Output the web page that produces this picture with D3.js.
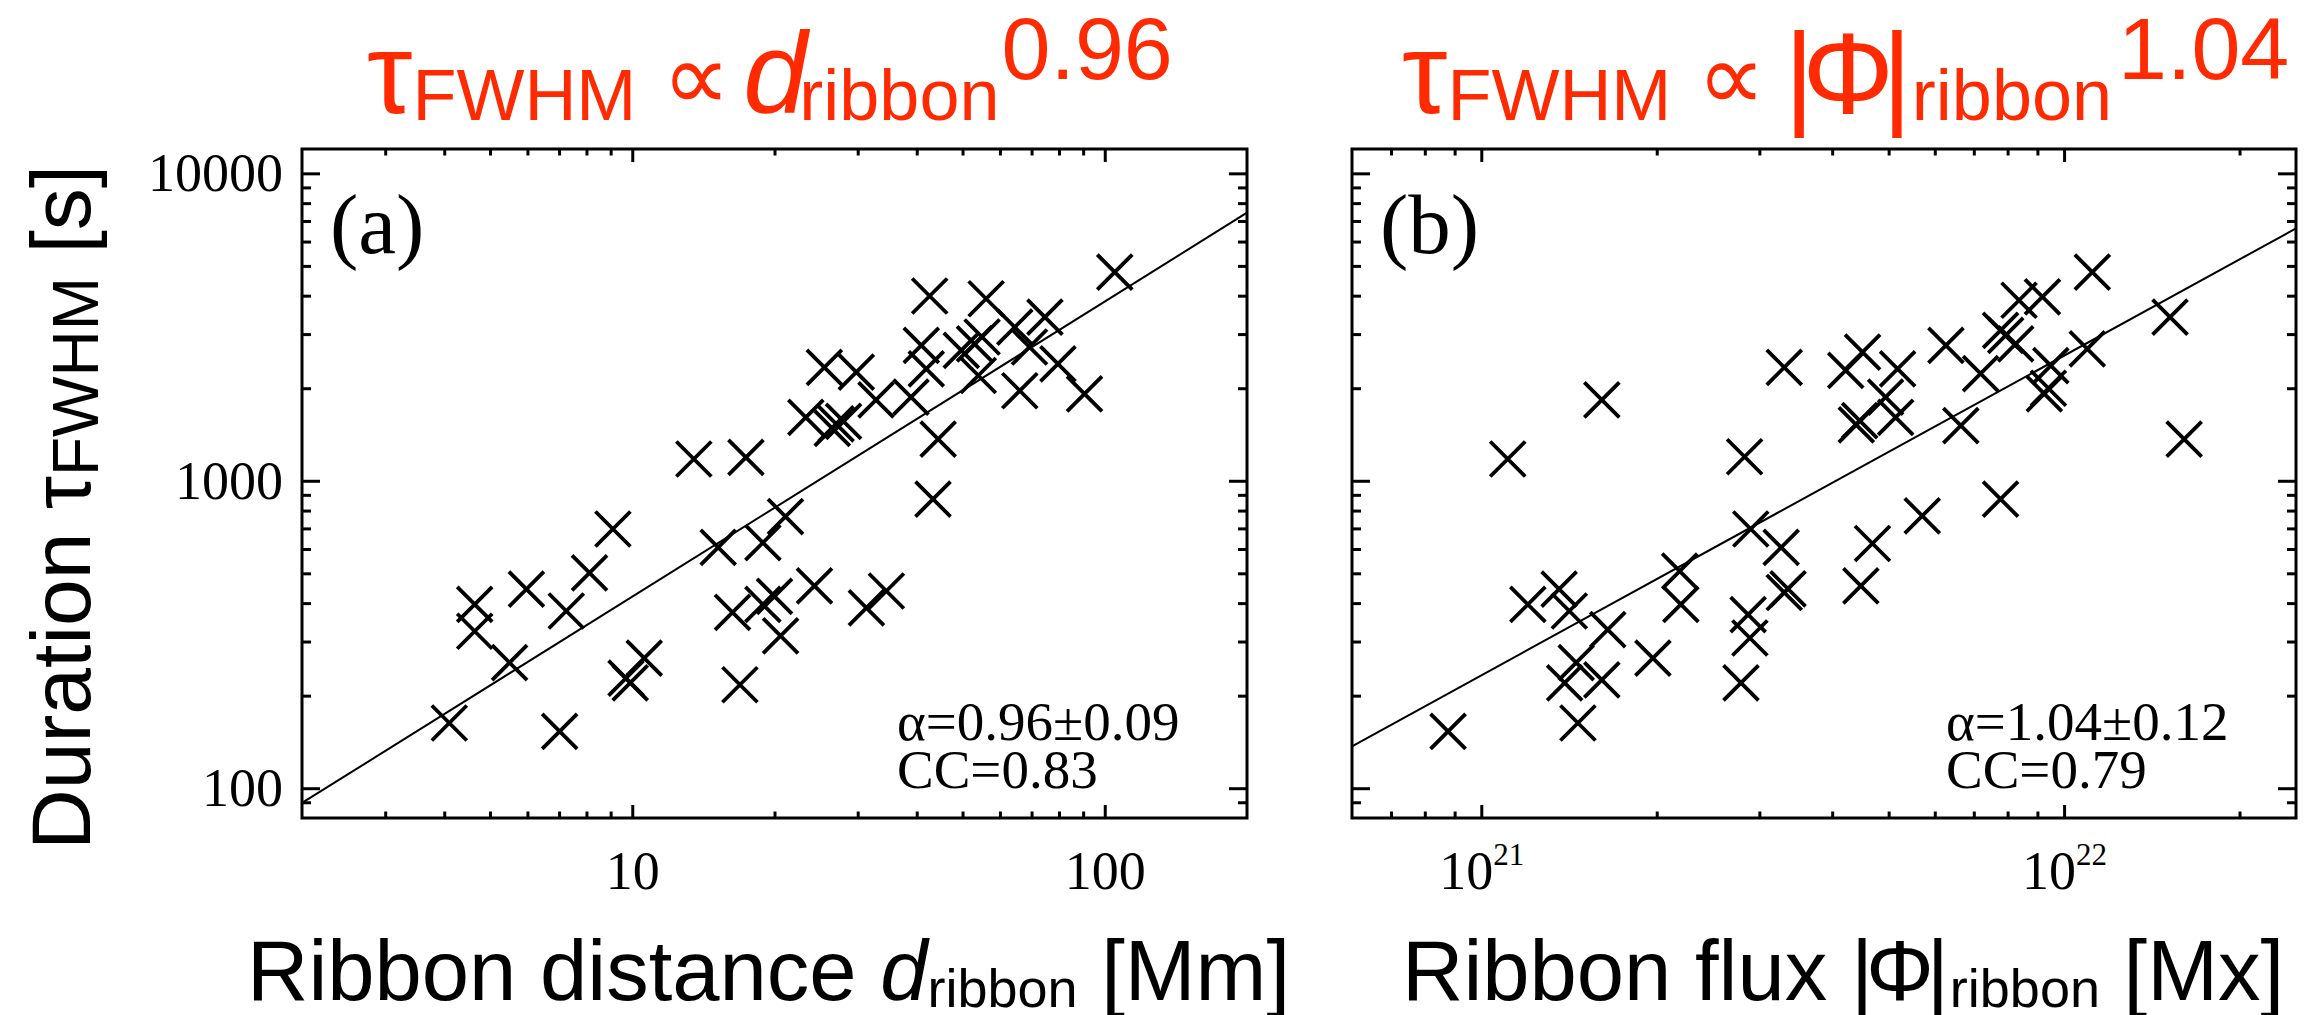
<!DOCTYPE html>
<html><head><meta charset="utf-8">
<script src="https://cdn.jsdelivr.net/npm/d3@7"></script>
<style>body{margin:0;background:#fff;}svg{display:block;}</style>
</head><body>
<svg id="chart" width="2307" height="1015"></svg>
<script>
// ---------------- data ----------------
const ribbonDistance = [4.10,4.64,4.64,5.50,5.97,7.02,7.25,8.12,9.10,9.7,9.9,10.6,13.5,15.2,16.3,16.9,17.4,18.9,18.9,20.0,20.6,21.1,23.3,24.3,25.5,27.0,28.0,26.5,29.8,31.3,32.8,34.5,38.9,40.9,41.9,42.6,43.3,44.4,49.7,53.0,54.0,55.0,56.1,64.5,66.1,69.3,74.7,79.6,90.6,105];
const durationA = [163,396,324,256,444,153,377,502,697,228,220,265,1177,607,373,217,1191,629,396,421,313,765,1608,455,2338,1531,1560,1480,2255,386,1833,438,1870,2755,2312,3990,872,1367,2655,2790,2200,2935,3910,3160,1963,2723,3405,2400,1918,4775];
const ribbonFlux = [0.877e21,1.11e21,1.202e21,1.36e21,1.416e21,1.39e21,1.455e21,1.465e21,1.61e21,1.61e21,1.648e21,1.97e21,2.19e21,2.20e21,2.79e21,2.83e21,2.87e21,2.89e21,2.90e21,3.27e21,3.31e21,3.36e21,3.31e21,4.22e21,4.46e21,4.40e21,4.48e21,4.51e21,4.69e21,4.94e21,5.14e21,5.18e21,5.71e21,6.27e21,6.65e21,7.19e21,7.78e21,7.78e21,7.94e21,8.26e21,8.37e21,9.18e21,9.25e21,9.49e21,9.4e21,1.096e22,1.118e22,1.52e22,1.607e22];
const durationB = [153,1177,396,444,377,220,256,163,225,1833,328,265,508,396,220,1197,367,308,697,607,433,445,2338,2285,1570,1520,455,2620,625,1870,1608,2313,769,2755,1511,2230,872,3085,2970,2790,3865,3965,1918,2370,2000,2686,4775,3405,1367];
const fitSlope = [0.96, 1.04];
const fitLogIntercept = [1.663, -19.473];
const xDomainA = [2, 200];
const xDomainB = [6e20, 2.5e22];
const yDomain = [80, 12000];
const xTickLabelsA = [10, 100];
const xTickLabelsB = [1e21, 1e22];
const yTickLabels = [100, 1000, 10000];
const panelLabels = ["(a)", "(b)"];
const annotLine1 = ["α=0.96±0.09", "α=1.04±0.12"];
const annotLine2 = ["CC=0.83", "CC=0.79"];
const titleExponent = ["0.96", "1.04"];

// ---------------- drawing ----------------
const svg = d3.select("#chart");
const RED = "#ff2a00";
const SANS = "'Liberation Sans', Arial, Helvetica, sans-serif";
const SERIF = "'Liberation Serif', 'Times New Roman', serif";

function minorTicks(domain, maxV) {
  const out = [];
  const lo = Math.floor(Math.log10(domain[0])), hi = Math.ceil(Math.log10(domain[1]));
  for (let e = lo; e <= hi; e++) for (let m = 2; m <= 9; m++) {
    const v = m * Math.pow(10, e);
    if (v > domain[0] * 1.001 && v < domain[1] * 0.999 && v <= maxV) out.push(v);
  }
  return out;
}

const panels = [
  {left: 302, right: 1247, top: 149, bottom: 818, xDomain: xDomainA, xs: ribbonDistance, ys: durationA, xMajor: xTickLabelsA, yLabels: true, sup: false},
  {left: 1352, right: 2296, top: 149, bottom: 818, xDomain: xDomainB, xs: ribbonFlux, ys: durationB, xMajor: xTickLabelsB, yLabels: false, sup: true}
];

panels.forEach((p, i) => {
  const x = d3.scaleLog().domain(p.xDomain).range([p.left, p.right]);
  const y = d3.scaleLog().domain(yDomain).range([p.bottom, p.top]);
  const g = svg.append("g");
  const xMinor = minorTicks(p.xDomain, Infinity);
  const yMinor = minorTicks(yDomain, yTickLabels[yTickLabels.length - 1]);
  const xl = 13, yl = 18;

  function styleAxis(sel) {
    sel.select(".domain").remove();
    sel.selectAll(".tick line").attr("stroke", "#000").attr("stroke-width", 3);
    sel.selectAll("text").attr("font-family", SERIF).attr("font-size", 54).attr("fill", "#000");
  }
  const bMaj = g.append("g").attr("transform", `translate(0,${p.bottom})`)
    .call(d3.axisBottom(x).tickValues(p.xMajor).tickSizeInner(-xl).tickSizeOuter(0).tickPadding(33)
      .tickFormat(d => p.sup ? "" : d3.format("d")(d)));
  styleAxis(bMaj);
  if (p.sup) {
    bMaj.selectAll(".tick text").each(function(d) {
      const t = d3.select(this);
      t.append("tspan").text("10");
      t.append("tspan").attr("font-size", 31).attr("dy", -24).text(Math.round(Math.log10(d)));
    });
  }
  g.append("g").attr("transform", `translate(0,${p.bottom})`)
    .call(d3.axisBottom(x).tickValues(xMinor).tickSizeInner(-xl / 2).tickSizeOuter(0).tickFormat(""))
    .call(styleAxis);
  g.append("g").attr("transform", `translate(0,${p.top})`)
    .call(d3.axisTop(x).tickValues(p.xMajor).tickSizeInner(-xl).tickSizeOuter(0).tickFormat("")).call(styleAxis);
  g.append("g").attr("transform", `translate(0,${p.top})`)
    .call(d3.axisTop(x).tickValues(xMinor).tickSizeInner(-xl / 2).tickSizeOuter(0).tickFormat("")).call(styleAxis);
  g.append("g").attr("transform", `translate(${p.left},0)`)
    .call(d3.axisLeft(y).tickValues(yTickLabels).tickSizeInner(-yl).tickSizeOuter(0).tickPadding(19)
      .tickFormat(d => p.yLabels ? d3.format("d")(d) : "")).call(styleAxis);
  g.append("g").attr("transform", `translate(${p.left},0)`)
    .call(d3.axisLeft(y).tickValues(yMinor).tickSizeInner(-yl / 2).tickSizeOuter(0).tickFormat("")).call(styleAxis);
  g.append("g").attr("transform", `translate(${p.right},0)`)
    .call(d3.axisRight(y).tickValues(yTickLabels).tickSizeInner(-yl).tickSizeOuter(0).tickFormat("")).call(styleAxis);
  g.append("g").attr("transform", `translate(${p.right},0)`)
    .call(d3.axisRight(y).tickValues(yMinor).tickSizeInner(-yl / 2).tickSizeOuter(0).tickFormat("")).call(styleAxis);

  g.append("rect").attr("x", p.left).attr("y", p.top).attr("width", p.right - p.left).attr("height", p.bottom - p.top)
    .attr("fill", "none").attr("stroke", "#000").attr("stroke-width", 3);

  const fit = v => Math.pow(10, fitLogIntercept[i] + fitSlope[i] * Math.log10(v));
  const line = d3.line().x(d => x(d)).y(d => y(fit(d)));
  g.append("path").attr("d", line(p.xDomain)).attr("fill", "none").attr("stroke", "#000").attr("stroke-width", 2);

  const s = 17.5;
  g.append("g").selectAll("path").data(p.xs.map((v, k) => [v, p.ys[k]])).join("path")
    .attr("transform", d => `translate(${x(d[0])},${y(d[1])})`)
    .attr("d", `M${-s},${-s}L${s},${s}M${-s},${s}L${s},${-s}`)
    .attr("stroke", "#000").attr("stroke-width", 3.8).attr("fill", "none");

  g.append("text").attr("x", p.left + 28).attr("y", 253).attr("font-family", SERIF).attr("font-size", 85)
    .text(panelLabels[i]);
  g.append("text").attr("x", p.right - 350).attr("y", 740).attr("font-family", SERIF).attr("font-size", 55).text(annotLine1[i]);
  g.append("text").attr("x", p.right - 350).attr("y", 788).attr("font-family", SERIF).attr("font-size", 55).text(annotLine2[i]);

  // title
  const tt = svg.append("text").attr("x", p.left + (i === 0 ? 65 : 50)).attr("y", 113)
    .attr("font-family", SANS).attr("fill", RED);
  tt.append("tspan").attr("font-size", 115).text("τ");
  tt.append("tspan").attr("font-size", 72).attr("dy", 7).text("FWHM");
  tt.append("tspan").attr("font-size", 96).attr("dy", -10).attr("dx", 26).text("∝");
  if (i === 0) {
    tt.append("tspan").attr("font-size", 115).attr("dy", 3).attr("dx", 12).attr("font-style", "italic").text("d");
  } else {
    tt.append("tspan").attr("font-size", 115).attr("dy", 3).attr("dx", 18).attr("letter-spacing", -12).text("|Φ|");
  }
  tt.append("tspan").attr("font-size", 72).attr("dy", 7).attr("dx", i === 0 ? -8 : 12).attr("letter-spacing", 0).text("ribbon");
  tt.append("tspan").attr("font-size", 88).attr("dy", -41).attr("dx", i === 0 ? 2 : 6).text(titleExponent[i]);

  // x axis title
  const xt = svg.append("text").attr("x", i === 0 ? 247 : 1402).attr("y", 1000).attr("font-family", SANS).attr("fill", "#000");
  if (i === 0) {
    xt.append("tspan").attr("font-size", 85).text("Ribbon distance ");
    xt.append("tspan").attr("font-size", 85).attr("font-style", "italic").text("d");
  } else {
    xt.append("tspan").attr("font-size", 85).text("Ribbon flux ");
    xt.append("tspan").attr("font-size", 85).attr("letter-spacing", -7).text("|Φ|");
  }
  xt.append("tspan").attr("font-size", 54).attr("dy", 7).attr("dx", i === 0 ? 0 : 8).attr("letter-spacing", 0).text("ribbon");
  xt.append("tspan").attr("font-size", 85).attr("dy", -7).text(i === 0 ? " [Mm]" : " [Mx]");
});

// y axis title
const yt = svg.append("text").attr("transform", "translate(90,850) rotate(-90)").attr("text-anchor", "start")
  .attr("font-family", SANS).attr("fill", "#000");
yt.append("tspan").attr("font-size", 84).text("Duration τ");
yt.append("tspan").attr("font-size", 64).attr("dy", 8).text("FWHM");
yt.append("tspan").attr("font-size", 84).attr("dy", -8).text(" [s]");
</script>
</body></html>
